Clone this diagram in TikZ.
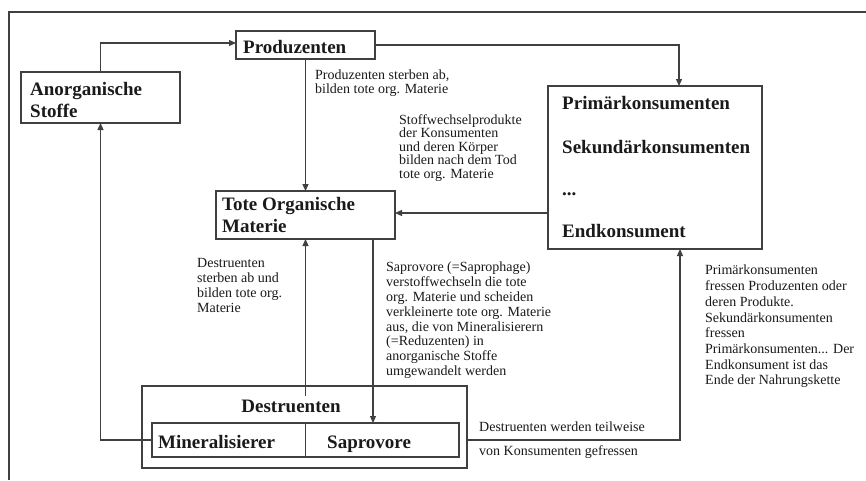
\documentclass[tikz,border=0pt]{standalone}
\usepackage{fontspec}
\setmainfont{Liberation Serif}
\usetikzlibrary{arrows.meta}
\definecolor{ln}{HTML}{404040}
\definecolor{tx}{HTML}{1A1A1A}
\begin{document}
\begin{tikzpicture}[x=1pt,y=-1pt,
  box/.style={draw=ln,line width=1.4pt,inner sep=0pt,outer sep=0pt},
  big/.style={font=\fontsize{19}{22}\selectfont\bfseries,text=tx,inner sep=0pt,anchor=base west},
  small/.style={text=tx,inner sep=0pt,anchor=north west,align=left},
  conn/.style={draw=ln,line width=1.2pt,-{Triangle[length=7pt,width=6pt]}}]
\useasboundingbox[fill=white] (0,0) rectangle (866,480);
% frame
\draw[ln,line width=1.2pt] (866,12) -- (9,12) -- (9,480);
% boxes
\node[box,minimum width=139pt,minimum height=28pt] (prod) at (305.5,45) {};
\node[box,minimum width=159pt,minimum height=51pt] (anorg) at (100.5,97.5) {};
\node[box,minimum width=179pt,minimum height=48pt] (tote) at (305.5,215) {};
\node[box,minimum width=214pt,minimum height=163pt] (prim) at (655,167.5) {};
\node[box,minimum width=325pt,minimum height=82pt] (outer) at (304.5,427) {};
\node[box,minimum width=307pt,minimum height=34pt] (inner) at (305.5,440) {};
\draw[ln,line width=1.2pt] (inner.north) -- (inner.south);
% box texts
\node[big] (tprod) at (243,53) {Produzenten};
\node[big] (tan1) at (30,95) {Anorganische};
\node[big] (tan2) at (30,117) {Stoffe};
\node[big] (tto1) at (222,210) {Tote Organische};
\node[big] (tto2) at (222,232) {Materie};
\node[big] (tp1) at (562,109) {Primärkonsumenten};
\node[big] (tp2) at (562,153) {Sekundärkonsumenten};
\node[big] (tp3) at (562,195) {...};
\node[big] (tp4) at (562,237) {Endkonsument};
\node[big,anchor=base] (destrlbl) at (291,412) {Destruenten};
\node[big] (tmin) at (158,448) {Mineralisierer};
\node[big] (tsap) at (327,448) {Saprovore};
% small texts
\node[small,font=\fontsize{14}{14}\selectfont] (s1) at (315,70) {Produzenten sterben ab,\\bilden tote org. Materie};
\node[small,font=\fontsize{14}{13.5}\selectfont] (s2) at (399,114) {Stoffwechselprodukte\\der Konsumenten\\und deren Körper\\bilden nach dem Tod\\tote org. Materie};
\node[small,font=\fontsize{14}{15}\selectfont] (s3) at (197,258) {Destruenten\\sterben ab und\\bilden tote org.\\Materie};
\node[small,font=\fontsize{14}{14.8}\selectfont] (s4) at (386,262) {Saprovore (=Saprophage)\\verstoffwechseln die tote\\org. Materie und scheiden\\verkleinerte tote org. Materie\\aus, die von Mineralisierern\\(=Reduzenten) in\\anorganische Stoffe\\umgewandelt werden};
\node[small,font=\fontsize{14}{15.7}\selectfont] (s5) at (705,265) {Primärkonsumenten\\fressen Produzenten oder\\deren Produkte.\\Sekundärkonsumenten\\fressen\\Primärkonsumenten... Der\\Endkonsument ist das\\Ende der Nahrungskette};
\node[small,anchor=base west,font=\fontsize{14}{14}\selectfont] (s6) at (479,431) {Destruenten werden teilweise};
\node[small,anchor=base west,font=\fontsize{14}{14}\selectfont] (s7) at (479,455) {von Konsumenten gefressen};
% connectors
\draw[conn] (anorg.north) |- ([yshift=2pt]prod.west);
\draw[conn] (prod.east) -| ([xshift=24pt]prim.north);
\draw[conn] (prod.south) -- (tote.north);
\draw[conn] ([yshift=-45.5pt]prim.west) -- ([yshift=-45.5pt]prim.west -| tote.east);
\draw[conn] ([yshift=3pt]destrlbl.north -| tote.south) -- (tote.south);
\draw[conn] ([xshift=67.5pt]tote.south) -- ([xshift=67.5pt]tote.south |- inner.north);
\draw[conn] (inner.west) -| (anorg.south);
\draw[conn] (outer.east |- inner.east) -| ([xshift=25pt]prim.south);
\end{tikzpicture}
\end{document}
